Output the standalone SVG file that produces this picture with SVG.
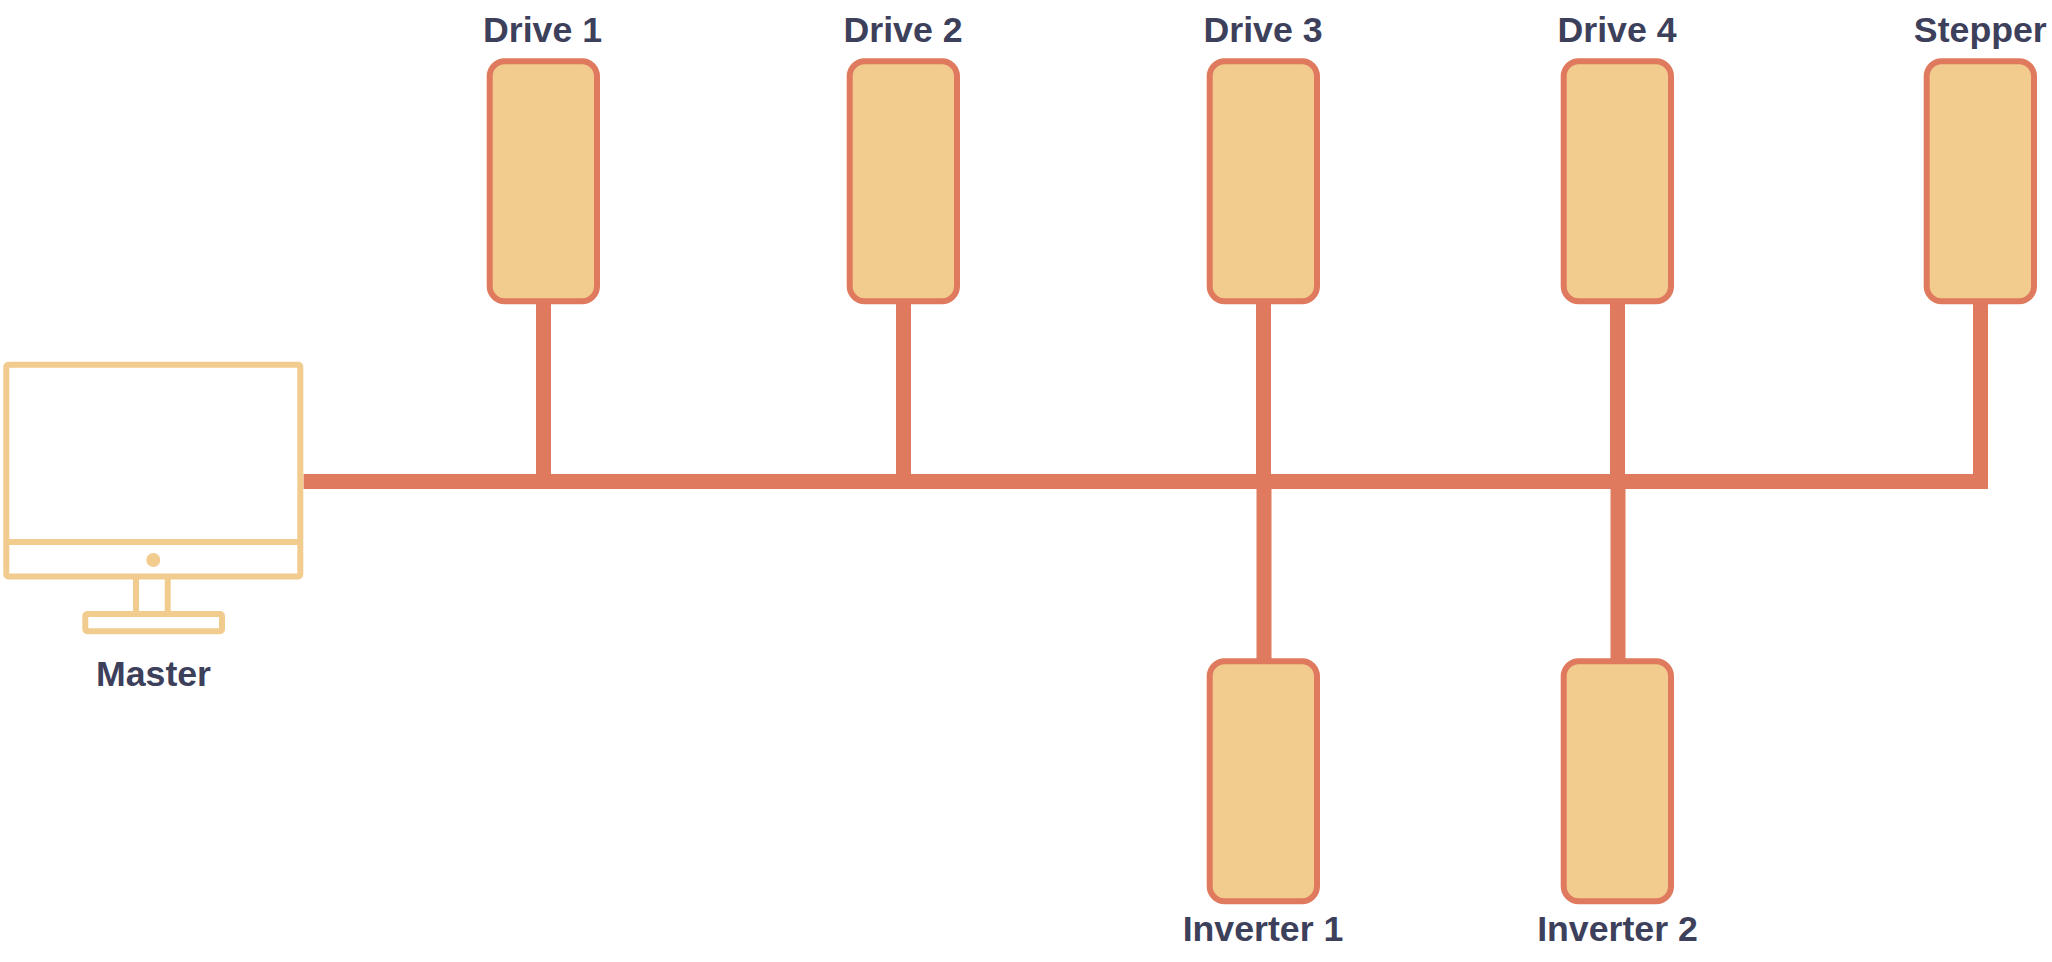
<svg xmlns="http://www.w3.org/2000/svg" width="2052" height="962" viewBox="0 0 2052 962">
<style>
.box{fill:#F2CC8F;stroke:#E07A5F;stroke-width:6}
.ic{fill:none;stroke:#F2CC8F;stroke-width:6}
.lb{font-family:"Liberation Sans",Arial,sans-serif;font-weight:700;font-size:35.7px;fill:#3D405B;text-anchor:middle}
.bus{fill:none;stroke:#E07A5F;stroke-width:15}
</style>
<rect width="2052" height="962" fill="#FFFFFF"/>
<g id="connectors">
<path class="bus" d="M303.500 481.500H1980.500V301"/>
<path class="bus" d="M543.500 481.500V301"/>
<path class="bus" d="M903.500 481.500V301"/>
<path class="bus" d="M1263.500 481.500V301"/>
<path class="bus" d="M1617.500 481.500V301"/>
<path class="bus" d="M1264 481.500V661"/>
<path class="bus" d="M1618 481.500V661"/>
</g>
<g id="master">
<rect class="ic" x="6.300" y="364.700" width="294" height="211.700" rx="2"/>
<path class="ic" d="M6.300 542H300.300M136 576.400V614M167.700 576.400V614"/>
<rect class="ic" x="85.300" y="614" width="136.700" height="17.300" rx="2"/>
<circle cx="153.300" cy="560" r="7" fill="#F2CC8F"/>
<text class="lb" x="153.500" y="686">Master</text>
</g>
<g id="drive1"><rect class="box" x="489.700" y="61.300" width="107.300" height="240" rx="15"/><text class="lb" x="542.500" y="42">Drive 1</text></g>
<g id="drive2"><rect class="box" x="849.700" y="61.300" width="107.300" height="240" rx="15"/><text class="lb" x="903" y="42">Drive 2</text></g>
<g id="drive3"><rect class="box" x="1209.700" y="61.300" width="107.300" height="240" rx="15"/><text class="lb" x="1263" y="42">Drive 3</text></g>
<g id="drive4"><rect class="box" x="1563.700" y="61.300" width="107.300" height="240" rx="15"/><text class="lb" x="1617" y="42">Drive 4</text></g>
<g id="stepper"><rect class="box" x="1926.700" y="61.300" width="107.300" height="240" rx="15"/><text class="lb" x="1980.300" y="42">Stepper</text></g>
<g id="inverter1"><rect class="box" x="1209.700" y="661.300" width="107.300" height="240" rx="15"/><text class="lb" x="1263" y="941">Inverter 1</text></g>
<g id="inverter2"><rect class="box" x="1563.700" y="661.300" width="107.300" height="240" rx="15"/><text class="lb" x="1617.500" y="941">Inverter 2</text></g>
</svg>
